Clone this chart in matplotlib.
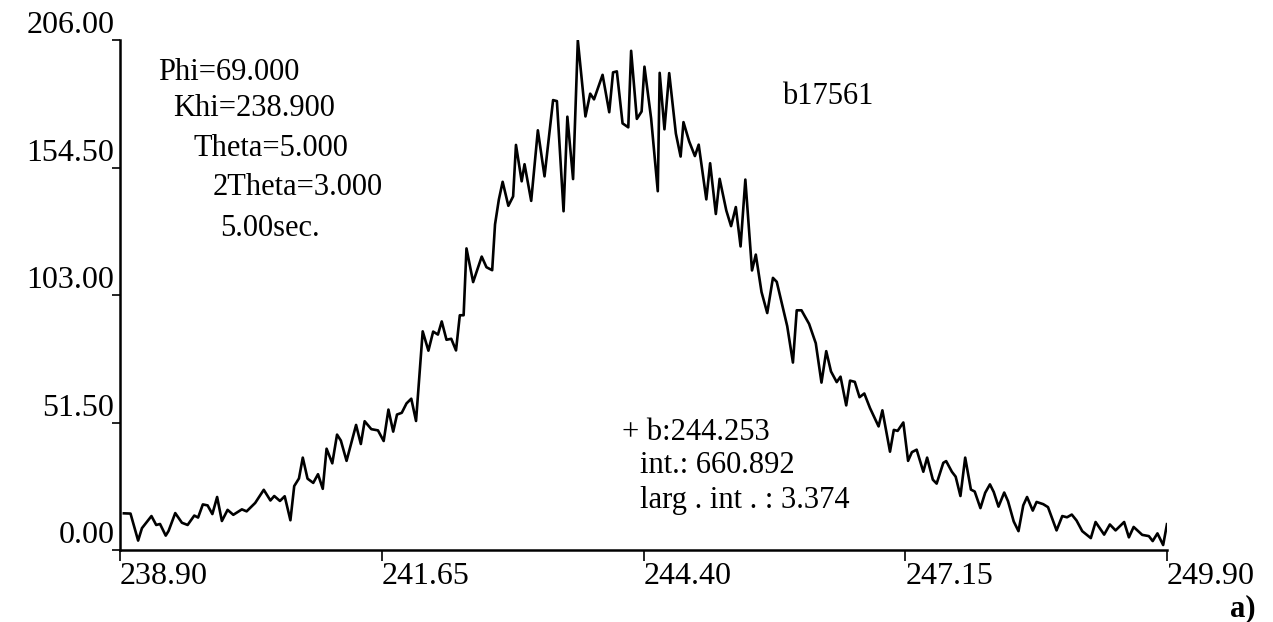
import matplotlib
matplotlib.use('Agg')
import matplotlib.pyplot as plt

# scan of angle (Khi) vs counts
angle = [238.94, 239.01, 239.09, 239.13, 239.23, 239.28, 239.32, 239.38, 239.41, 239.48,
         239.55, 239.61, 239.68, 239.72, 239.77, 239.82, 239.87, 239.92, 239.97, 240.03,
         240.09, 240.18, 240.23, 240.32, 240.41, 240.48, 240.52, 240.58, 240.63, 240.69,
         240.73, 240.78, 240.82, 240.87, 240.93, 240.98, 241.03, 241.07, 241.13, 241.18,
         241.22, 241.28, 241.38, 241.43, 241.47, 241.54, 241.61, 241.67, 241.72, 241.77,
         241.81, 241.86, 241.91, 241.96, 242.01, 242.08, 242.14, 242.19, 242.24, 242.28,
         242.33, 242.38, 242.43, 242.47, 242.51, 242.54, 242.61, 242.70, 242.75, 242.81,
         242.84, 242.88, 242.92, 242.98, 243.03, 243.06, 243.12, 243.15, 243.22, 243.29,
         243.36, 243.45, 243.49, 243.56, 243.60, 243.66, 243.71, 243.79, 243.84, 243.88,
         243.97, 244.04, 244.08, 244.12, 244.18, 244.24, 244.27, 244.33, 244.38, 244.41,
         244.48, 244.55, 244.57, 244.62, 244.67, 244.74, 244.79, 244.82, 244.88, 244.94,
         244.98, 245.06, 245.10, 245.16, 245.20, 245.27, 245.32, 245.37, 245.42, 245.47,
         245.54, 245.58, 245.64, 245.70, 245.76, 245.80, 245.85, 245.91, 245.97, 246.01,
         246.06, 246.14, 246.21, 246.27, 246.32, 246.37, 246.43, 246.47, 246.53, 246.57,
         246.62, 246.67, 246.72, 246.78, 246.87, 246.91, 246.99, 247.03, 247.07, 247.13,
         247.18, 247.22, 247.27, 247.34, 247.38, 247.44, 247.48, 247.55, 247.58, 247.64,
         247.68, 247.73, 247.78, 247.84, 247.88, 247.94, 247.99, 248.04, 248.08, 248.13,
         248.19, 248.23, 248.29, 248.34, 248.39, 248.43, 248.49, 248.53, 248.60, 248.65,
         248.74, 248.80, 248.85, 248.90, 248.95, 249.01, 249.10, 249.15, 249.24, 249.30,
         249.36, 249.45, 249.50, 249.55, 249.64, 249.71, 249.75, 249.80, 249.86, 249.90]
counts = [15.0, 14.9, 4.0, 9.0, 13.9, 10.3, 10.7, 6.0, 7.9, 15.1,
          11.2, 10.3, 14.1, 13.3, 18.6, 18.2, 14.7, 21.6, 11.9, 16.4,
          14.4, 16.6, 15.8, 19.2, 24.5, 20.2, 22.0, 20.0, 21.9, 12.2,
          26.0, 29.1, 37.5, 29.0, 27.3, 30.8, 24.9, 41.1, 35.2, 46.8,
          44.4, 36.2, 50.7, 43.0, 52.2, 49.0, 48.5, 44.2, 56.9, 48.0,
          54.9, 55.6, 59.4, 61.3, 52.3, 88.5, 80.7, 88.4, 87.2, 92.5,
          85.1, 85.5, 80.8, 95.0, 95.0, 122.0, 108.4, 118.7, 114.4, 113.2,
          131.7, 141.7, 148.9, 139.2, 143.0, 163.8, 149.1, 156.0, 141.2, 169.7,
          151.1, 181.9, 181.5, 137.0, 175.2, 150.0, 206.0, 175.3, 184.5, 182.2,
          192.1, 177.0, 193.1, 193.5, 172.5, 170.9, 201.8, 174.3, 177.3, 195.4,
          174.5, 145.1, 192.9, 170.1, 192.8, 168.4, 159.1, 173.0, 165.2, 159.3,
          163.9, 141.8, 156.4, 135.9, 150.1, 137.3, 131.0, 138.7, 122.8, 149.8,
          113.1, 119.5, 104.4, 95.9, 110.1, 108.5, 100.3, 90.6, 75.9, 97.0,
          97.0, 91.5, 83.7, 67.8, 80.5, 72.3, 68.0, 70.2, 58.6, 68.6,
          68.1, 61.9, 63.4, 57.5, 50.1, 56.6, 39.9, 48.7, 48.3, 51.7,
          36.2, 39.7, 40.7, 31.8, 37.5, 28.6, 27.0, 35.4, 36.1, 31.8,
          29.8, 22.0, 37.5, 24.6, 23.8, 17.1, 23.3, 26.7, 23.6, 17.7,
          23.4, 19.9, 11.7, 7.8, 18.2, 21.6, 16.1, 19.6, 18.7, 17.5,
          8.1, 13.9, 13.4, 14.5, 12.1, 7.8, 5.0, 11.5, 6.4, 10.5,
          8.1, 11.5, 5.3, 9.5, 6.3, 5.8, 3.8, 6.9, 2.2, 10.6]

x_ticks = [238.90, 241.65, 244.40, 247.15, 249.90]
y_ticks = [0.0, 51.5, 103.0, 154.5, 206.0]

params = ['Phi=69.000', 'Khi=238.900', 'Theta=5.000', '2Theta=3.000', '5.00sec.']
fit_text = ['+ b:244.253', 'int.: 660.892', 'larg . int . : 3.374']

plt.rcParams['font.family'] = ['Liberation Serif', 'DejaVu Serif']

fig = plt.figure(figsize=(12.73, 6.22), dpi=100)
ax = fig.add_axes([0.0943, 0.115, 0.8224, 0.82])

ax.plot(angle, counts, color='black', linewidth=1.9)
ax.set_xlim(238.90, 249.90)
ax.set_ylim(0, 206)

for side in ['top', 'right']:
    ax.spines[side].set_visible(False)
for side in ['left', 'bottom']:
    ax.spines[side].set_linewidth(1.8)

ax.set_xticks(x_ticks)
ax.set_xticklabels(['%.2f' % v for v in x_ticks], fontsize=23, ha='left')
ax.set_yticks(y_ticks)
ax.set_yticklabels(['%.2f' % v for v in y_ticks], fontsize=23, va='bottom')
ax.tick_params(axis='x', direction='out', length=8, width=1.2, pad=0)
ax.tick_params(axis='y', direction='out', length=6, width=1.2, pad=-2)

# parameter block, each line stepped to the right
px = [0.124, 0.136, 0.152, 0.167, 0.173]
py = [0.884, 0.826, 0.762, 0.698, 0.633]
for s, x, y in zip(params, px, py):
    fig.text(x, y, s, fontsize=22, va='center')

fig.text(0.614, 0.845, 'b17561', fontsize=22, va='center')

fx = [0.489, 0.503, 0.503]
fy = [0.305, 0.251, 0.196]
for s, x, y in zip(fit_text, fx, fy):
    fig.text(x, y, s, fontsize=22, va='center')

fig.text(0.966, 0.022, 'a)', fontsize=22, fontweight='bold', va='center')

fig.savefig('out.png', dpi=100)
